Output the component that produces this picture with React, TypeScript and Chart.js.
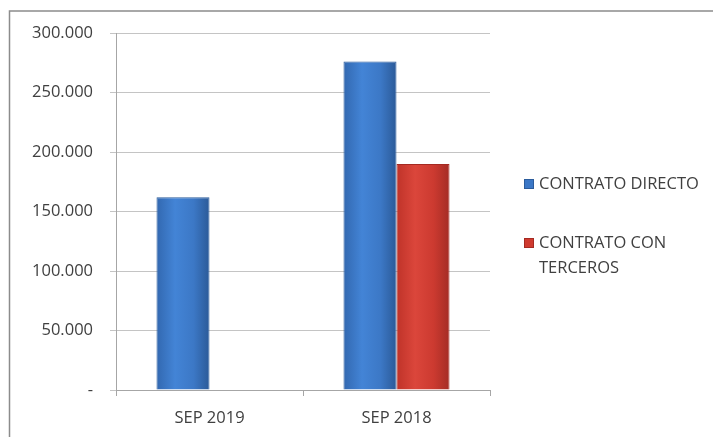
import React, { useEffect, useRef } from "react";
import { Chart, registerables } from "chart.js";

Chart.register(...registerables);

const categories = ["SEP 2019", "SEP 2018"];
const seriesNames = ["CONTRATO DIRECTO", "CONTRATO CON TERCEROS"];
const directoValues = [162000, 276000];
const tercerosValues: (number | null)[] = [null, 190000];
const seriesColors = ["#3b77c6", "#cf3a2f"];
const seriesBorders = ["#2c5c9c", "#a52a22"];
const seriesGradients = [
  ["#3268b0", "#4384d6", "#3c78c6", "#2b5a98"],
  ["#bf3329", "#db463b", "#cc3a30", "#a42c25"],
];
const yTicks = [0, 50000, 100000, 150000, 200000, 250000, 300000];
const CAT_PCT = 0.567;

const FONT = "'Open Sans', 'Noto Sans', sans-serif";
const TEXT = "#404040";

function fmt(v: number): string {
  if (v === 0) return "-";
  return Math.round(v)
    .toString()
    .replace(/\B(?=(\d{3})+(?!\d))/g, ".");
}

function barFill(c: any) {
  const i = c.datasetIndex;
  const chart = c.chart;
  const xs = chart.scales && chart.scales.x;
  if (!xs || c.type !== "data" || !isFinite(xs.width) || xs.width <= 0) return seriesColors[i];
  const n = chart.data.datasets.length;
  const catW = xs.width / chart.data.labels.length;
  const barW = (catW * CAT_PCT) / n;
  const center = xs.getPixelForValue(c.dataIndex);
  const x0 = center - (barW * n) / 2 + i * barW;
  const x1 = x0 + barW;
  const g = chart.ctx.createLinearGradient(x0, 0, x1, 0);
  const stops = seriesGradients[i];
  g.addColorStop(0, stops[0]);
  g.addColorStop(0.35, stops[1]);
  g.addColorStop(0.7, stops[2]);
  g.addColorStop(1, stops[3]);
  return g;
}

const framePlugin = {
  id: "frame",
  afterDraw(chart: any) {
    const ctx = chart.ctx;
    ctx.save();
    ctx.strokeStyle = "#8c8c8c";
    ctx.lineWidth = 1.5;
    ctx.strokeRect(9.5, 11, 720, 440);
    ctx.restore();
  },
};

const legendPlugin = {
  id: "sideLegend",
  afterDraw(chart: any) {
    const ctx = chart.ctx;
    ctx.save();
    ctx.font = `16.5px ${FONT}`;
    ctx.textBaseline = "middle";
    ctx.textAlign = "left";
    const textX = 539;
    const boxX = 524;
    const maxW = 168;
    const lineH = 25;
    const startYs = [184, 243];
    chart.data.datasets.forEach((ds: any, i: number) => {
      const words = String(ds.label).split(" ");
      const lines: string[] = [];
      let cur = "";
      words.forEach((w) => {
        const test = cur ? cur + " " + w : w;
        if (ctx.measureText(test).width > maxW && cur) {
          lines.push(cur);
          cur = w;
        } else cur = test;
      });
      if (cur) lines.push(cur);
      const y0 = startYs[i];
      ctx.fillStyle = seriesColors[i];
      ctx.fillRect(boxX, y0 - 5, 10, 10);
      ctx.strokeStyle = seriesBorders[i];
      ctx.lineWidth = 1;
      ctx.strokeRect(boxX + 0.5, y0 - 4.5, 9, 9);
      ctx.fillStyle = TEXT;
      lines.forEach((ln, j) => ctx.fillText(ln, textX, y0 + j * lineH));
    });
    ctx.restore();
  },
};

export default function App() {
  const ref = useRef<HTMLCanvasElement | null>(null);

  useEffect(() => {
    if (!ref.current) return;
    const chart = new Chart(ref.current, {
      type: "bar",
      data: {
        labels: categories,
        datasets: [
          {
            label: seriesNames[0],
            data: directoValues,
            backgroundColor: barFill,
            borderColor: seriesBorders[0],
            borderWidth: 1,
          },
          {
            label: seriesNames[1],
            data: tercerosValues,
            backgroundColor: barFill,
            borderColor: seriesBorders[1],
            borderWidth: 1,
          },
        ],
      },
      options: {
        responsive: false,
        animation: false,
        devicePixelRatio: 1,
        layout: { padding: { left: 10, top: 33, right: 223, bottom: 0 } },
        plugins: {
          legend: { display: false },
          tooltip: { enabled: false },
        },
        datasets: {
          bar: { categoryPercentage: CAT_PCT, barPercentage: 1 },
        },
        scales: {
          x: {
            offset: true,
            grid: {
              offset: true,
              drawOnChartArea: false,
              drawTicks: true,
              tickLength: 6,
              color: "#a6a6a6",
            },
            border: { display: true, color: "#a6a6a6", width: 1 },
            ticks: {
              color: TEXT,
              font: { family: FONT, size: 16.5 },
              padding: 12,
              maxRotation: 0,
            },
            afterFit(scale: any) {
              scale.height = 47;
            },
          },
          y: {
            min: 0,
            max: 300000,
            afterBuildTicks(scale: any) {
              scale.ticks = yTicks.map((v) => ({ value: v }));
            },
            grid: {
              color: "#c4c4c4",
              drawTicks: true,
              tickLength: 6,
            },
            border: { display: true, color: "#a6a6a6", width: 1 },
            ticks: {
              color: TEXT,
              font: { family: FONT, size: 16.5 },
              padding: 17,
              callback: (v: any) => fmt(Number(v)),
            },
            afterFit(scale: any) {
              scale.width = 106;
            },
          },
        },
      },
      plugins: [framePlugin, legendPlugin],
    });
    return () => chart.destroy();
  }, []);

  return (
    <div
      style={{
        position: "fixed",
        left: 0,
        top: 0,
        width: 713,
        height: 437,
        overflow: "hidden",
        background: "#fff",
      }}
    >
      <canvas ref={ref} width={713} height={437} style={{ width: 713, height: 437 }} />
    </div>
  );
}
